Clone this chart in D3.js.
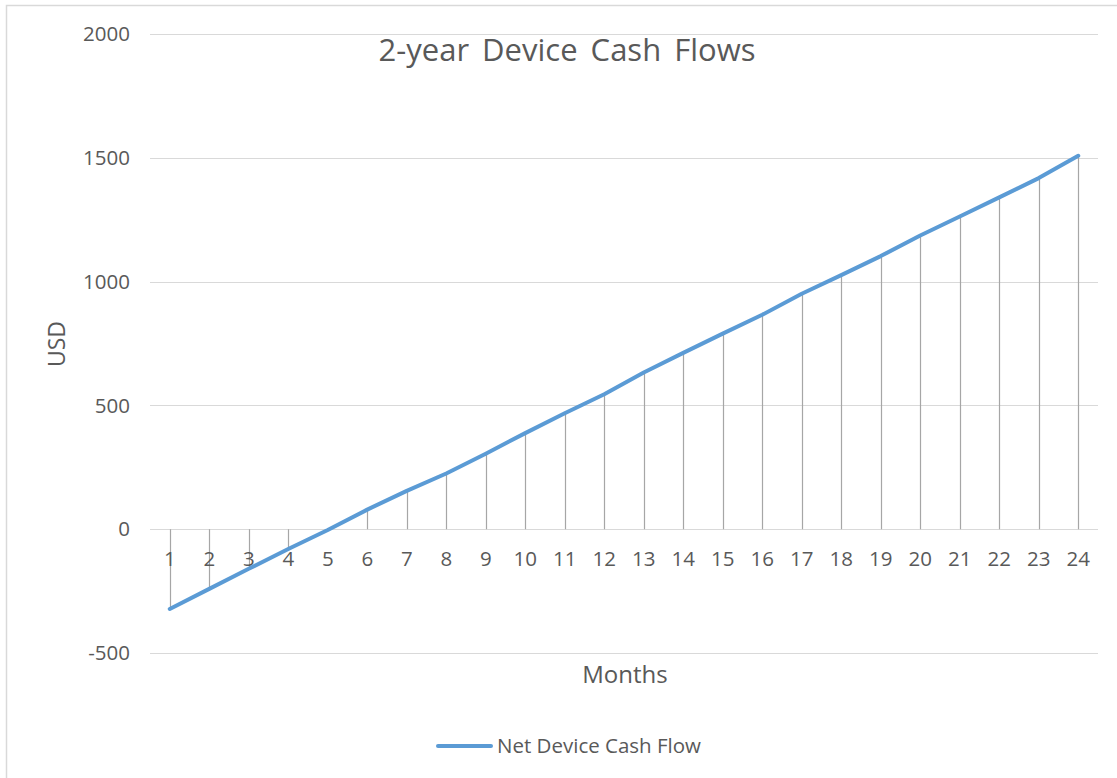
<!DOCTYPE html>
<html>
<head>
<meta charset="utf-8">
<script src="https://cdn.jsdelivr.net/npm/d3@7"></script>
<style>
  html, body { margin: 0; padding: 0; background: #fff; }
  svg text { font-family: "Open Sans", "Liberation Sans", sans-serif; fill: #595959; }
</style>
</head>
<body>
<svg id="chart" width="1117" height="778"></svg>
<script>
const months = ["1","2","3","4","5","6","7","8","9","10","11","12","13","14","15","16","17","18","19","20","21","22","23","24"];
const netCashFlow = [-322, -241, -160, -80, -3, 79, 155, 225, 305, 388, 468, 545, 633, 712, 790, 866, 951, 1026, 1103, 1186, 1263, 1340, 1418, 1508];
const yTicks = [-500, 0, 500, 1000, 1500, 2000];
const titleText = "2-year Device Cash Flows";
const xTitle = "Months";
const yTitle = "USD";
const seriesName = "Net Device Cash Flow";

const svg = d3.select("#chart");
const plotLeft = 150, plotRight = 1098, plotTop = 34, plotBottom = 653;

// outer border (top and left visible)
svg.append("rect").attr("x", 6.5).attr("y", 5.5).attr("width", 1200).attr("height", 900)
  .attr("fill", "none").attr("stroke", "#d9d9d9").attr("stroke-width", 1.5);

const x = d3.scaleBand().domain(months).range([plotLeft, plotRight]).paddingInner(0).paddingOuter(0);
const y = d3.scaleLinear().domain([-500, 2000]).range([plotBottom, plotTop]);

// gridlines
svg.append("g").selectAll("line").data(yTicks).join("line")
  .attr("x1", plotLeft).attr("x2", plotRight)
  .attr("y1", d => Math.round(y(d)) + 0.5).attr("y2", d => Math.round(y(d)) + 0.5)
  .attr("stroke", "#d9d9d9").attr("stroke-width", 1);

// y labels
svg.append("g").selectAll("text").data(yTicks).join("text")
  .attr("x", 130).attr("y", d => y(d)).attr("dy", "0.35em")
  .attr("text-anchor", "end").attr("font-size", 20.5).text(d => d);

// x axis line at 0
svg.append("line").attr("x1", plotLeft).attr("x2", plotRight)
  .attr("y1", Math.round(y(0)) + 0.5).attr("y2", Math.round(y(0)) + 0.5)
  .attr("stroke", "#d9d9d9").attr("stroke-width", 1);

const cx = m => x(m) + x.bandwidth() / 2;

// drop lines
svg.append("g").selectAll("line").data(months).join("line")
  .attr("x1", m => Math.round(cx(m)) + 0.5).attr("x2", m => Math.round(cx(m)) + 0.5)
  .attr("y1", y(0)).attr("y2", (m, i) => y(netCashFlow[i]))
  .attr("stroke", "#a6a6a6").attr("stroke-width", 1.2);

// x labels
svg.append("g").selectAll("text").data(months).join("text")
  .attr("x", m => cx(m)).attr("y", y(0) + 37)
  .attr("text-anchor", "middle").attr("font-size", 20.5).text(m => m);

// series line
const line = d3.line().x((d, i) => cx(months[i])).y(d => y(d));
svg.append("path").datum(netCashFlow).attr("d", line)
  .attr("fill", "none").attr("stroke", "#5b9bd5").attr("stroke-width", 4)
  .attr("stroke-linecap", "round").attr("stroke-linejoin", "round");

// title
svg.append("text").attr("x", 567).attr("y", 61).attr("text-anchor", "middle")
  .attr("font-size", 31).attr("word-spacing", 5).text(titleText);

// axis titles
svg.append("text").attr("x", 625).attr("y", 683).attr("text-anchor", "middle")
  .attr("font-size", 24).text(xTitle);
svg.append("text").attr("transform", "translate(65,344) rotate(-90)")
  .attr("text-anchor", "middle").attr("font-size", 23).text(yTitle);

// legend
svg.append("line").attr("x1", 438).attr("x2", 491).attr("y1", 746).attr("y2", 746)
  .attr("stroke", "#5b9bd5").attr("stroke-width", 4).attr("stroke-linecap", "round");
svg.append("text").attr("x", 497).attr("y", 753).attr("font-size", 20.5).text(seriesName);
</script>
</body>
</html>
